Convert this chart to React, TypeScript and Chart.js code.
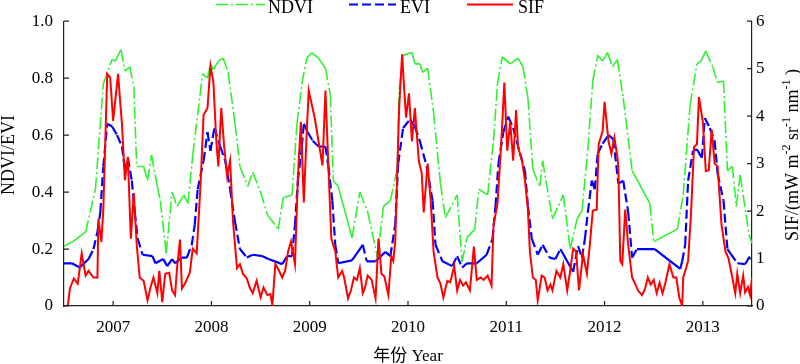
import React, { useEffect, useRef } from 'react';
import { Chart, registerables } from 'chart.js';

Chart.register(...registerables);

// ---------- data ----------
const yearTicks = [2007, 2008, 2009, 2010, 2011, 2012, 2013];
const leftTicks = [0, 0.2, 0.4, 0.6, 0.8, 1.0];
const rightTicks = [0, 1, 2, 3, 4, 5, 6];

const ndviDates = [
  2006.50, 2006.59, 2006.72, 2006.82, 2006.90, 2006.99, 2007.02, 2007.08, 2007.12, 2007.17,
  2007.21, 2007.24, 2007.31, 2007.35, 2007.39, 2007.45, 2007.48, 2007.54, 2007.60, 2007.65,
  2007.72, 2007.76, 2007.81, 2007.91, 2007.96, 2007.99, 2008.02, 2008.07, 2008.12, 2008.17,
  2008.24, 2008.29, 2008.37, 2008.42, 2008.50, 2008.57, 2008.68, 2008.73, 2008.82, 2008.87,
  2008.92, 2008.97, 2009.02, 2009.09, 2009.16, 2009.21, 2009.24, 2009.29, 2009.43, 2009.51,
  2009.59, 2009.69, 2009.75, 2009.82, 2009.89, 2009.91, 2009.95, 2010.04, 2010.07, 2010.12,
  2010.15, 2010.20, 2010.26, 2010.33, 2010.38, 2010.50, 2010.55, 2010.60, 2010.68, 2010.72,
  2010.81, 2010.87, 2010.91, 2010.96, 2011.04, 2011.12, 2011.17, 2011.22, 2011.27, 2011.34,
  2011.37, 2011.47, 2011.58, 2011.65, 2011.72, 2011.77, 2011.83, 2011.88, 2011.93, 2011.98,
  2012.03, 2012.08, 2012.13, 2012.19, 2012.28, 2012.46, 2012.50, 2012.74, 2012.80, 2012.87,
  2012.94, 2012.98, 2013.03, 2013.10, 2013.15, 2013.21, 2013.25, 2013.30, 2013.34, 2013.38,
  2013.41, 2013.47, 2013.50,
];
const ndviValues = [
  0.21, 0.226, 0.26, 0.41, 0.78, 0.866, 0.86, 0.90, 0.825, 0.84,
  0.77, 0.49, 0.49, 0.44, 0.53, 0.42, 0.37, 0.185, 0.40, 0.35,
  0.39, 0.36, 0.53, 0.815, 0.80, 0.85, 0.83, 0.86, 0.87, 0.82,
  0.64, 0.49, 0.42, 0.47, 0.40, 0.32, 0.27, 0.38, 0.39, 0.64,
  0.78, 0.87, 0.89, 0.87, 0.835, 0.74, 0.44, 0.42, 0.24, 0.40,
  0.33, 0.17, 0.35, 0.37, 0.48, 0.76, 0.88, 0.89, 0.85, 0.85,
  0.82, 0.835, 0.68, 0.43, 0.31, 0.39, 0.155, 0.24, 0.27, 0.41,
  0.39, 0.58, 0.78, 0.875, 0.85, 0.87, 0.84, 0.73, 0.48, 0.42,
  0.51, 0.305, 0.39, 0.20, 0.305, 0.335, 0.55, 0.79, 0.88, 0.86,
  0.89, 0.84, 0.865, 0.73, 0.475, 0.36, 0.226, 0.27, 0.39, 0.705,
  0.85, 0.86, 0.895, 0.84, 0.785, 0.79, 0.475, 0.49, 0.35, 0.46,
  0.39, 0.25, 0.22,
];

const eviDates = [
  2006.50, 2006.58, 2006.66, 2006.75, 2006.80, 2006.84, 2006.87, 2006.90, 2006.94, 2006.99,
  2007.04, 2007.09, 2007.12, 2007.15, 2007.19, 2007.22, 2007.25, 2007.30, 2007.40, 2007.43,
  2007.51, 2007.55, 2007.60, 2007.63, 2007.70, 2007.75, 2007.80, 2007.83, 2007.86, 2007.92,
  2007.96, 2007.99, 2008.03, 2008.09, 2008.14, 2008.19, 2008.24, 2008.29, 2008.36, 2008.42,
  2008.52, 2008.58, 2008.72, 2008.77, 2008.82, 2008.85, 2008.88, 2008.92, 2008.94, 2008.98,
  2009.03, 2009.09, 2009.16, 2009.19, 2009.23, 2009.26, 2009.29, 2009.43, 2009.54, 2009.58,
  2009.67, 2009.77, 2009.82, 2009.87, 2009.90, 2009.95, 2010.02, 2010.07, 2010.12, 2010.19,
  2010.25, 2010.28, 2010.35, 2010.45, 2010.50, 2010.55, 2010.60, 2010.70, 2010.80, 2010.86,
  2010.89, 2010.92, 2010.97, 2011.02, 2011.07, 2011.14, 2011.19, 2011.22, 2011.26, 2011.32,
  2011.37, 2011.44, 2011.50, 2011.55, 2011.68, 2011.73, 2011.77, 2011.80, 2011.83, 2011.87,
  2011.90, 2011.93, 2011.98, 2012.04, 2012.09, 2012.14, 2012.19, 2012.24, 2012.28, 2012.33,
  2012.51, 2012.77, 2012.79, 2012.82, 2012.85, 2012.90, 2012.94, 2012.99, 2013.02, 2013.07,
  2013.12, 2013.15, 2013.21, 2013.25, 2013.28, 2013.35, 2013.43, 2013.48,
];
const eviValues = [
  0.15, 0.15, 0.135, 0.165, 0.20, 0.26, 0.33, 0.49, 0.64, 0.63,
  0.60, 0.56, 0.475, 0.52, 0.44, 0.33, 0.236, 0.18, 0.175, 0.15,
  0.165, 0.14, 0.165, 0.15, 0.17, 0.17, 0.215, 0.285, 0.41, 0.51,
  0.61, 0.545, 0.625, 0.56, 0.51, 0.41, 0.295, 0.20, 0.17, 0.18,
  0.175, 0.165, 0.147, 0.175, 0.175, 0.285, 0.44, 0.56, 0.64, 0.61,
  0.58, 0.56, 0.56, 0.49, 0.37, 0.215, 0.15, 0.16, 0.215, 0.157,
  0.157, 0.19, 0.175, 0.285, 0.50, 0.625, 0.655, 0.63, 0.58, 0.49,
  0.37, 0.215, 0.157, 0.14, 0.175, 0.135, 0.15, 0.15, 0.18, 0.236,
  0.35, 0.50, 0.61, 0.665, 0.625, 0.535, 0.475, 0.35, 0.236, 0.18,
  0.215, 0.17, 0.165, 0.20, 0.12, 0.21, 0.17, 0.236, 0.33, 0.44,
  0.41, 0.535, 0.57, 0.60, 0.585, 0.43, 0.44, 0.33, 0.17, 0.20,
  0.20, 0.13, 0.157, 0.215, 0.44, 0.545, 0.55, 0.52, 0.66, 0.625,
  0.58, 0.465, 0.37, 0.20, 0.185, 0.15, 0.147, 0.175,
];

const sifDates = [
  2006.54, 2006.56, 2006.60, 2006.64, 2006.68, 2006.72, 2006.75, 2006.80, 2006.84, 2006.85,
  2006.88, 2006.90, 2006.94, 2006.97, 2007.00, 2007.05, 2007.09, 2007.12, 2007.15, 2007.18,
  2007.21, 2007.24, 2007.27, 2007.31, 2007.35, 2007.38, 2007.41, 2007.45, 2007.47, 2007.50,
  2007.53, 2007.57, 2007.60, 2007.63, 2007.65, 2007.68, 2007.70, 2007.73, 2007.78, 2007.81,
  2007.85, 2007.89, 2007.92, 2007.96, 2007.99, 2008.02, 2008.05, 2008.07, 2008.10, 2008.13,
  2008.16, 2008.19, 2008.22, 2008.26, 2008.29, 2008.32, 2008.36, 2008.39, 2008.42, 2008.46,
  2008.50, 2008.53, 2008.57, 2008.60, 2008.62, 2008.65, 2008.68, 2008.72, 2008.75, 2008.78,
  2008.81, 2008.85, 2008.88, 2008.91, 2008.94, 2008.97, 2008.99, 2009.05, 2009.09, 2009.13,
  2009.16, 2009.19, 2009.22, 2009.26, 2009.29, 2009.33, 2009.35, 2009.39, 2009.42, 2009.45,
  2009.48, 2009.51, 2009.54, 2009.56, 2009.59, 2009.63, 2009.67, 2009.70, 2009.73, 2009.76,
  2009.80, 2009.83, 2009.85, 2009.87, 2009.89, 2009.91, 2009.94, 2009.96, 2009.98, 2010.01,
  2010.04, 2010.07, 2010.11, 2010.14, 2010.16, 2010.20, 2010.23, 2010.26, 2010.30, 2010.33,
  2010.36, 2010.40, 2010.43, 2010.47, 2010.50, 2010.53, 2010.56, 2010.59, 2010.63, 2010.67,
  2010.70, 2010.74, 2010.77, 2010.81, 2010.85, 2010.87, 2010.91, 2010.94, 2010.96, 2010.98,
  2011.01, 2011.04, 2011.07, 2011.10, 2011.12, 2011.16, 2011.19, 2011.22, 2011.24, 2011.27,
  2011.30, 2011.32, 2011.36, 2011.39, 2011.42, 2011.45, 2011.47, 2011.51, 2011.55, 2011.58,
  2011.62, 2011.65, 2011.68, 2011.71, 2011.74, 2011.78, 2011.82, 2011.85, 2011.88, 2011.92,
  2011.94, 2011.98, 2012.00, 2012.04, 2012.07, 2012.10, 2012.13, 2012.14, 2012.16, 2012.18,
  2012.21, 2012.24, 2012.28, 2012.31, 2012.34, 2012.38, 2012.41, 2012.44, 2012.47, 2012.50,
  2012.53, 2012.56, 2012.59, 2012.62, 2012.66, 2012.70, 2012.73, 2012.76, 2012.79, 2012.80,
  2012.83, 2012.85, 2012.88, 2012.91, 2012.94, 2012.96, 2013.00, 2013.03, 2013.06, 2013.09,
  2013.12, 2013.15, 2013.19, 2013.23, 2013.26, 2013.30, 2013.33, 2013.35, 2013.38, 2013.41,
  2013.43, 2013.46, 2013.48, 2013.50,
];
const sifValues = [
  0.02, 0.37, 0.58, 0.47, 1.11, 0.64, 0.74, 0.60, 0.60, 1.83,
  1.35, 2.03, 4.89, 4.81, 3.90, 4.89, 3.82, 2.65, 3.14, 1.42,
  2.38, 1.29, 0.60, 0.53, 0.12, 0.39, 0.60, 0.27, 0.74, 0.08,
  0.68, 0.70, 0.33, 0.23, 0.80, 1.40, 0.37, 0.47, 0.70, 1.21,
  1.11, 2.59, 4.03, 4.17, 5.06, 4.71, 3.47, 2.94, 4.17, 3.35,
  2.73, 3.06, 1.77, 0.80, 0.88, 0.68, 0.58, 0.39, 0.27, 0.53,
  0.18, 0.39, 0.23, 0.25, 0.02, 0.88, 0.78, 0.60, 0.74, 1.15,
  1.36, 0.88, 2.73, 3.88, 2.18, 3.68, 4.54, 3.97, 3.47, 2.96,
  4.54, 2.94, 1.42, 1.15, 0.60, 0.74, 0.60, 0.16, 0.33, 0.60,
  0.55, 0.80, 0.27, 0.37, 0.64, 0.55, 0.16, 1.42, 0.68, 0.62,
  0.23, 1.05, 0.95, 1.36, 2.79, 4.17, 5.30, 4.60, 3.97, 4.48,
  3.47, 4.17, 3.06, 2.79, 1.97, 3.00, 2.24, 1.15, 0.60, 0.47,
  0.18, 0.53, 0.50, 0.84, 0.33, 0.55, 0.43, 0.50, 0.33, 1.25,
  0.55, 0.60, 0.55, 0.64, 0.43, 1.71, 2.14, 3.14, 3.88, 4.71,
  3.27, 3.88, 3.06, 4.13, 3.35, 3.06, 2.65, 2.03, 1.15, 0.60,
  0.55, 0.12, 0.64, 0.60, 0.33, 0.45, 0.33, 0.74, 0.60, 0.88,
  0.33, 0.74, 1.21, 1.15, 0.33, 1.09, 0.68, 1.29, 2.01, 2.03,
  3.41, 3.68, 4.30, 3.47, 3.21, 3.55, 3.14, 2.94, 0.95, 0.88,
  2.03, 1.29, 0.60, 0.47, 0.33, 0.23, 0.35, 0.60, 0.45, 0.55,
  0.27, 0.49, 0.27, 0.50, 0.88, 0.60, 0.60, 0.18, 0.00, 0.60,
  0.80, 0.95, 1.97, 3.35, 3.41, 4.40, 3.88, 2.84, 2.86, 3.72,
  3.00, 2.94, 1.71, 1.15, 1.01, 0.60, 0.27, 0.68, 0.27, 0.64,
  0.29, 0.40, 0.23, 0.60,
];

// ---------- styling ----------
const FONT = "'Liberation Serif', serif";
const CJK_FONT = "'Liberation Serif', 'Noto Sans CJK SC', serif";
const GREEN = '#2ef22e';
const BLUE = '#0000ff';
const RED = '#ff0000';
const NDVI_DASH = [12, 3, 2, 3];
const EVI_DASH = [9, 4];

Chart.defaults.font.family = FONT;

const zip = (xs: number[], ys: number[]) => {
  const n = Math.min(xs.length, ys.length);
  const out: { x: number; y: number }[] = [];
  for (let i = 0; i < n; i++) out.push({ x: xs[i], y: ys[i] });
  return out;
};

// each segment restarts its dash; long gaps (missing data) drawn solid
const segStyle = (dash: number[], gap: number) => ({
  borderDash: (c: any) => (c.p1.parsed.x - c.p0.parsed.x > gap ? [] : dash),
  borderDashOffset: (c: any) => (c.p0DataIndex % 2 ? 0.001 : 0),
});

type Part = { t: string; sup?: boolean };

function drawRotated(ctx: CanvasRenderingContext2D, parts: Part[], cx: number, cy: number, size: number) {
  const supSize = Math.round(size * 0.65);
  let total = 0;
  const widths = parts.map((p) => {
    ctx.font = `${p.sup ? supSize : size}px ${FONT}`;
    const w = ctx.measureText(p.t).width;
    total += w;
    return w;
  });
  ctx.save();
  ctx.translate(cx, cy);
  ctx.rotate(-Math.PI / 2);
  ctx.textAlign = 'left';
  ctx.textBaseline = 'alphabetic';
  ctx.fillStyle = '#000';
  let x = -total / 2;
  parts.forEach((p, i) => {
    ctx.font = `${p.sup ? supSize : size}px ${FONT}`;
    ctx.fillText(p.t, x, p.sup ? -size * 0.42 : 0);
    x += widths[i];
  });
  ctx.restore();
}

const decorPlugin = {
  id: 'decor',
  afterDraw(chart: any) {
    const ctx: CanvasRenderingContext2D = chart.ctx;
    const { left, right, bottom } = chart.chartArea;
    const xs = chart.scales.x;
    const yl = chart.scales.y;
    const yr = chart.scales.y2;
    ctx.save();
    // inward tick marks
    ctx.strokeStyle = '#222';
    ctx.lineWidth = 1.2;
    ctx.setLineDash([]);
    ctx.beginPath();
    xs.ticks.forEach((t: any) => {
      const p = xs.getPixelForValue(t.value);
      ctx.moveTo(p, bottom);
      ctx.lineTo(p, bottom - 5);
    });
    yl.ticks.forEach((t: any) => {
      const p = yl.getPixelForValue(t.value);
      ctx.moveTo(left, p);
      ctx.lineTo(left + 5, p);
    });
    yr.ticks.forEach((t: any) => {
      const p = yr.getPixelForValue(t.value);
      ctx.moveTo(right, p);
      ctx.lineTo(right - 5, p);
    });
    ctx.stroke();

    // legend
    const legend = [
      { label: 'NDVI', color: GREEN, dash: NDVI_DASH, width: 1.6, x0: 216, x1: 265, tx: 268 },
      { label: 'EVI', color: BLUE, dash: EVI_DASH, width: 2, x0: 349, x1: 396, tx: 400 },
      { label: 'SIF', color: RED, dash: [] as number[], width: 2, x0: 467, x1: 513, tx: 518 },
    ];
    legend.forEach((l) => {
      ctx.strokeStyle = l.color;
      ctx.lineWidth = l.width;
      ctx.setLineDash(l.dash);
      ctx.beginPath();
      ctx.moveTo(l.x0, 4.5);
      ctx.lineTo(l.x1, 4.5);
      ctx.stroke();
      ctx.setLineDash([]);
      ctx.fillStyle = '#000';
      ctx.font = `18px ${FONT}`;
      ctx.textAlign = 'left';
      ctx.textBaseline = 'alphabetic';
      ctx.fillText(l.label, l.tx, 12.5);
    });

    // axis titles
    drawRotated(ctx, [{ t: 'NDVI/EVI' }], 14, 155, 18);
    drawRotated(
      ctx,
      [
        { t: 'SIF/(mW m' },
        { t: '-2', sup: true },
        { t: ' sr' },
        { t: '-1', sup: true },
        { t: ' nm' },
        { t: '-1', sup: true },
        { t: ' )' },
      ],
      798,
      155,
      18
    );
    ctx.fillStyle = '#000';
    ctx.font = `17px ${CJK_FONT}`;
    ctx.textAlign = 'center';
    ctx.textBaseline = 'alphabetic';
    ctx.fillText('年份 Year', (left + right) / 2, 361);
    ctx.restore();
  },
};

export default function App() {
  const canvasRef = useRef<HTMLCanvasElement | null>(null);

  useEffect(() => {
    document.body.style.margin = '0';
    const canvas = canvasRef.current;
    if (!canvas) return;
    const tickFont = { family: FONT, size: 17 };
    const chart = new Chart(canvas, {
      type: 'line',
      data: {
        datasets: [
          {
            label: 'SIF',
            data: zip(sifDates, sifValues),
            yAxisID: 'y2',
            borderColor: RED,
            borderWidth: 2,
            pointRadius: 0,
            tension: 0,
            order: 0,
          },
          {
            label: 'EVI',
            data: zip(eviDates, eviValues),
            yAxisID: 'y',
            borderColor: BLUE,
            borderWidth: 2.2,
            borderDash: EVI_DASH,
            pointRadius: 0,
            tension: 0,
            order: 1,
            segment: segStyle(EVI_DASH, 0.085),
          },
          {
            label: 'NDVI',
            data: zip(ndviDates, ndviValues),
            yAxisID: 'y',
            borderColor: GREEN,
            borderWidth: 1.6,
            borderDash: NDVI_DASH,
            pointRadius: 0,
            tension: 0,
            order: 2,
            segment: segStyle(NDVI_DASH, 0.12),
          },
        ],
      },
      options: {
        responsive: false,
        animation: false,
        events: [],
        layout: { padding: { top: 14, left: 0, right: 0, bottom: 0 } },
        plugins: { legend: { display: false }, tooltip: { enabled: false }, title: { display: false } },
        scales: {
          x: {
            type: 'linear',
            min: 2006.5,
            max: 2013.5,
            afterBuildTicks: (s: any) => {
              s.ticks = yearTicks.map((v) => ({ value: v }));
            },
            afterFit: (s: any) => {
              s.height = 58;
            },
            grid: { display: false, drawTicks: false },
            border: { display: true, color: '#222', width: 1.2 },
            ticks: {
              color: '#000',
              font: tickFont,
              padding: 11,
              maxRotation: 0,
              autoSkip: false,
              callback: (v: any) => String(v),
            },
          },
          y: {
            type: 'linear',
            position: 'left',
            min: 0,
            max: 1,
            afterBuildTicks: (s: any) => {
              s.ticks = leftTicks.map((v) => ({ value: v }));
            },
            afterFit: (s: any) => {
              s.width = 64;
            },
            grid: { display: false, drawTicks: false },
            border: { display: true, color: '#222', width: 1.2 },
            ticks: {
              color: '#000',
              font: tickFont,
              padding: 11,
              callback: (v: any) => (v === 0 ? '0' : Number(v).toFixed(1)),
            },
          },
          y2: {
            type: 'linear',
            position: 'right',
            min: 0,
            max: 6,
            afterBuildTicks: (s: any) => {
              s.ticks = rightTicks.map((v) => ({ value: v }));
            },
            afterFit: (s: any) => {
              s.width = 48;
            },
            grid: { display: false, drawTicks: false },
            border: { display: true, color: '#222', width: 1.2 },
            ticks: {
              color: '#000',
              font: tickFont,
              padding: 4,
              callback: (v: any) => String(v),
            },
          },
        },
      },
      plugins: [decorPlugin],
    } as any);
    return () => chart.destroy();
  }, []);

  return (
    <div style={{ width: 800, height: 364, position: 'relative', background: '#fff' }}>
      <canvas ref={canvasRef} width={800} height={364} style={{ display: 'block' }} />
    </div>
  );
}
